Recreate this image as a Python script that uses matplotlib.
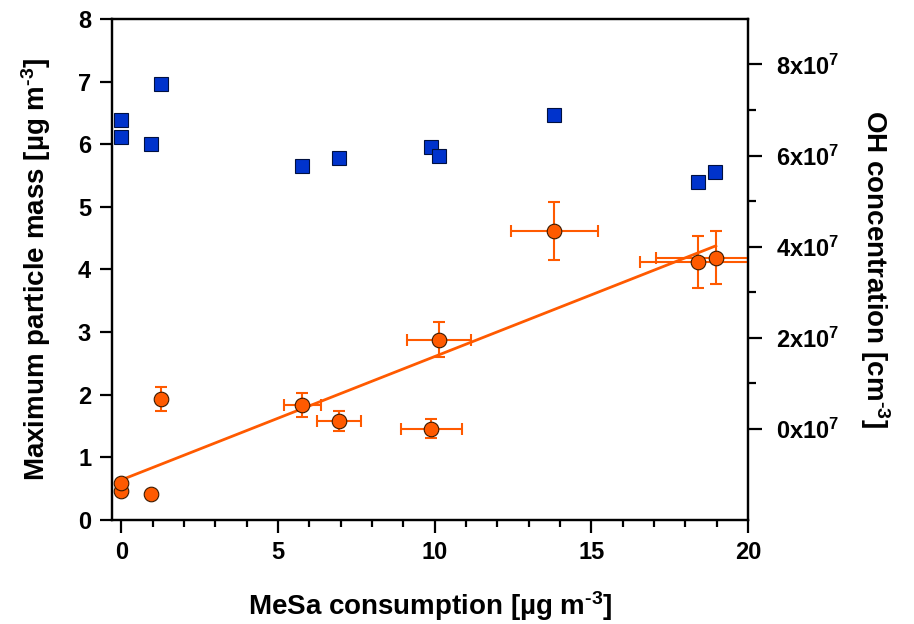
import matplotlib
matplotlib.use("Agg")
import matplotlib.pyplot as plt
from matplotlib.ticker import MultipleLocator, FixedLocator
import numpy as np

plt.rcParams['font.family'] = ['Liberation Sans', 'DejaVu Sans']
plt.rcParams['font.weight'] = 'bold'
plt.rcParams['mathtext.fontset'] = 'custom'
plt.rcParams['mathtext.rm'] = 'Liberation Sans:bold'
plt.rcParams['mathtext.bf'] = 'Liberation Sans:bold'
plt.rcParams['mathtext.default'] = 'regular'

# Maximum particle mass (left axis)
mesa_x = [0.0, 0.0, 0.93, 1.26, 5.77, 6.94, 9.89, 10.14, 13.82, 18.41, 18.97]
mass_y = [0.47, 0.59, 0.42, 1.93, 1.84, 1.58, 1.46, 2.88, 4.61, 4.12, 4.19]
mass_yerr = [np.nan, np.nan, np.nan, 0.19, 0.19, 0.16, 0.15, 0.285, 0.46, 0.41, 0.42]
mass_xerr = [np.nan, np.nan, np.nan, np.nan, 0.59, 0.70, 0.98, 1.02, 1.38, 1.85, 1.90]

# Linear fit
fit_intercept = 0.64
fit_slope = 0.197
fit_x = [0.0, 18.97]

# OH concentration (right axis), units of 1e7 cm^-3
oh_x = [0.0, 0.0, 0.93, 1.25, 5.75, 6.93, 9.87, 10.13, 13.8, 18.4, 18.95]
oh_y = [6.77, 6.41, 6.25, 7.58, 5.78, 5.94, 6.19, 5.99, 6.90, 5.43, 5.63]
oh_ticks = [0, 2, 4, 6, 8]

orange = '#FF5A00'
blue = '#0033CC'
HY = '\u2010'  # hyphen used in superscripts

fig = plt.figure(figsize=(9.14, 6.24), dpi=100)
ax = fig.add_axes([0.1225, 0.1667, 0.696, 0.803])

fit_y = [fit_intercept + fit_slope * v for v in fit_x]
ax.plot(fit_x, fit_y, color=orange, lw=2.0, zorder=2)
ax.errorbar(mesa_x, mass_y, yerr=mass_yerr, xerr=mass_xerr, fmt='none',
            ecolor=orange, elinewidth=1.5, capsize=4.3, capthick=1.5, zorder=3)
ax.plot(mesa_x, mass_y, 'o', ms=10.5, mfc=orange, mec='#3a1a00', mew=0.8, zorder=4)

ax.set_xlim(-0.3, 20)
ax.set_ylim(0, 8)
ax.xaxis.set_major_locator(MultipleLocator(5))
ax.xaxis.set_minor_locator(MultipleLocator(1))
ax.yaxis.set_major_locator(MultipleLocator(1))

for s in ax.spines.values():
    s.set_linewidth(1.6)
ax.tick_params(axis='both', which='major', direction='out', length=9, width=1.6,
               labelsize=17, pad=6)
ax.tick_params(axis='x', which='minor', direction='out', length=5, width=1.6)
ax.tick_params(top=False, right=False)
for lab in ax.get_xticklabels() + ax.get_yticklabels():
    lab.set_fontweight('bold')

ax.set_xlabel('MeSa consumption [µg m$^{%s3}$]' % HY, fontsize=20, fontweight='bold',
              labelpad=18)
ax.set_ylabel('Maximum particle mass [µg m$^{%s3}$]' % HY, fontsize=20, fontweight='bold',
              labelpad=18)

ax2 = ax.twinx()
ax2.plot(oh_x, oh_y, 's', ms=9.5, mfc=blue, mec='#001040', mew=0.8, zorder=4)
ax2.set_ylim(-2.0, 9.0)
ax2.yaxis.set_major_locator(FixedLocator(oh_ticks))
ax2.yaxis.set_minor_locator(FixedLocator([1, 3, 5, 7]))
ax2.set_yticklabels([r'$%dx10^{7}$' % v for v in oh_ticks])
ax2.tick_params(axis='y', which='major', direction='out', length=10, width=1.6,
                labelsize=17, pad=10)
ax2.tick_params(axis='y', which='minor', direction='out', length=5.5, width=1.6)
for s in ax2.spines.values():
    s.set_linewidth(1.6)
ax2.set_ylabel('OH concentration [cm$^{%s3}$]' % HY, fontsize=20, fontweight='bold',
               rotation=-90, labelpad=38)

fig.savefig('out.png', dpi=100)
